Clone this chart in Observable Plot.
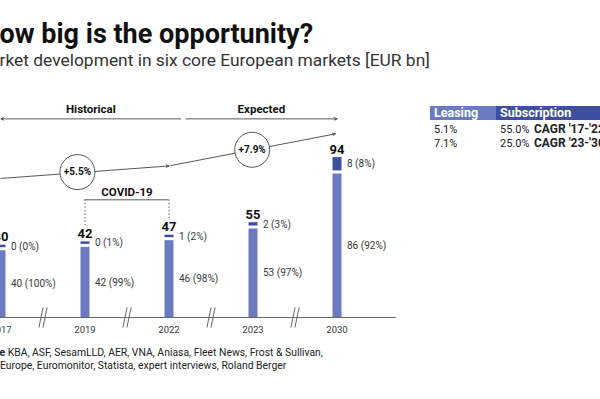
<!DOCTYPE html>
<html>
<head>
<meta charset="utf-8">
<script src="https://cdn.jsdelivr.net/npm/d3@7"></script>
<script src="https://cdn.jsdelivr.net/npm/@observablehq/plot@0.6"></script>
<style>
  html, body { margin: 0; padding: 0; }
  body { width: 600px; height: 399px; overflow: hidden; background: #fff; position: relative; font-family: Roboto, sans-serif; color: #1a1a1a; }
  .abs { position: absolute; white-space: nowrap; }
  #title { font-weight: 700; font-size: 27px; line-height: 27px; top: 21px; color: #111; }
  #subtitle { font-weight: 400; font-size: 17.4px; line-height: 19px; top: 51px; color: #333; }
  #chart { position: absolute; left: 0; top: 80px; }
  .foot { font-size: 10.4px; line-height: 12px; color: #222; }
  #cagrTable { position: absolute; left: 430px; top: 106px; width: 230px; border-collapse: collapse; font-size: 11px; color: #222; table-layout: fixed; }
  #cagrTable th { color: #fff; font-weight: 700; text-align: left; padding: 0 0 0 4px; height: 14px; line-height: 14px; font-size: 12.5px; white-space: nowrap; overflow: hidden; }
  #cagrTable td { padding: 0 0 0 4px; height: 13.5px; line-height: 13.5px; white-space: nowrap; overflow: hidden; }
  #cagrTable tr.first td { padding-top: 3px; }
</style>
</head>
<body>
<div id="title" class="abs"></div>
<div id="subtitle" class="abs"></div>
<div id="chart"></div>
<table id="cagrTable"></table>
<div id="foot1" class="abs foot" style="top:347px"></div>
<div id="foot2" class="abs foot" style="top:360px"></div>
<script>
// ---- data ----
const years = ["2017", "2019", "2022", "2023", "2030"];
const totals = [40, 42, 47, 55, 94];
const leasing = [40, 42, 46, 53, 86];
const leasingShare = [100, 99, 98, 97, 92];
const subscription = [0, 0, 1, 2, 8];
const subscriptionShare = [0, 1, 2, 3, 8];

const periods = ["Historical", "Expected"];
const periodFrom = [2.14, 2.2];   // index positions along the year axis
const periodTo = [0, 4];

const cagrLabels = ["+5.5%", "+7.9%"];
const cagrFromIdx = [0, 2.02];
const cagrToIdx = [2, 3.98];
const cagrFromVal = [83.3, 91];
const cagrToVal = [90.8, 110];
const cagrCircleIdx = [0.91, 2.99];
const cagrCircleVal = [87.1, 100.5];

const covidLabel = "COVID-19";
const covidYears = ["2019", "2022"];
const covidLevel = 70.5;

const tablePeriods = ["CAGR '17-'22", "CAGR '23-'30"];
const leasingCagr = ["5.1%", "7.1%"];
const subscriptionCagr = ["55.0%", "25.0%"];

const titleText = "How big is the opportunity?";
const subtitleText = "Market development in six core European markets [EUR bn]";
const sourceLabel = "Source";
const sourceLine1 = " KBA, ASF, SesamLLD, AER, VNA, Aniasa, Fleet News, Frost & Sullivan,";
const sourceLine2 = "Lease Europe, Euromonitor, Statista, expert interviews, Roland Berger";

// ---- styles ----
const LIGHT = "#6a7bc2";
const DARK = "#3f4f9f";
const INK = "#3a3a3a";
const GAP = 1.8;     // white gap between segments (value units)
const MINH = 1.5;    // minimum visible height of the thin top segment

// ---- helpers: crop-offset via text measurement ----
const ctx = document.createElement("canvas").getContext("2d");
function measure(str, font) { ctx.font = font; return ctx.measureText(str).width; }

const title = document.getElementById("title");
title.textContent = titleText;
title.style.left = (-measure("H", "700 27px Roboto") - 0.5) + "px";

const subtitle = document.getElementById("subtitle");
subtitle.textContent = subtitleText;
subtitle.style.left = (-measure("Ma", "400 17.4px Roboto") - 0.5) + "px";

const f1 = document.getElementById("foot1");
f1.innerHTML = `<b>${sourceLabel}</b>${sourceLine1.replace(/&/g, "&amp;")}`;
f1.style.left = (-measure("Sourc", "700 10.4px Roboto") - 0.5) + "px";
const f2 = document.getElementById("foot2");
f2.textContent = sourceLine2;
f2.style.left = (-measure("Lease ", "400 10.4px Roboto")) + "px";

// table
const tbl = document.getElementById("cagrTable");
tbl.innerHTML =
  `<colgroup><col style="width:66px"><col style="width:35px"><col style="width:129px"></colgroup>` +
  `<tr><th style="background:${LIGHT}">Leasing</th><th style="background:${DARK}" colspan="2">Subscription</th></tr>` +
  tablePeriods.map((p, i) =>
    `<tr class="${i === 0 ? "first" : ""}"><td>${leasingCagr[i]}</td><td>${subscriptionCagr[i]}</td><td style="font-weight:700;font-size:12px;padding-left:3px">${p}</td></tr>`
  ).join("");

// ---- chart data ----
const data = years.map((y, i) => ({
  i, year: y, total: totals[i], leasing: leasing[i], leasingShare: leasingShare[i],
  sub: subscription[i], subShare: subscriptionShare[i],
  subBase: leasing[i] + GAP,
  subTop: leasing[i] + GAP + Math.max(subscription[i], MINH)
}));
const periodData = periods.map((p, k) => ({label: p, from: periodFrom[k], to: periodTo[k], mid: (periodFrom[k] + periodTo[k]) / 2}));
const cagrData = cagrLabels.map((l, k) => ({label: l, x1: cagrFromIdx[k], y1: cagrFromVal[k], x2: cagrToIdx[k], y2: cagrToVal[k], cx: cagrCircleIdx[k], cy: cagrCircleVal[k]}));
const covidData = data.filter(d => covidYears.includes(d.year));
const breaks = d3.range(years.length - 1).map(k => k + 0.5);
const PERIOD_Y = 119;

const chart = Plot.plot({
  width: 600,
  height: 260,
  marginTop: 20,
  marginBottom: 23,
  marginLeft: 0,
  marginRight: 0,
  style: {fontFamily: "Roboto, sans-serif", background: "transparent", overflow: "visible"},
  x: {type: "linear", domain: [0, 4], range: [0.5, 336.5], axis: null},
  y: {domain: [0, 130], axis: null},
  marks: [
    // baseline axis
    Plot.ruleY([0], {x1: -0.5, x2: 4.705, stroke: "#666", strokeWidth: 1}),
    // axis breaks "//"
    Plot.link(breaks, {x1: d => d - 0.025, x2: d => d + 0.025, y1: -6, y2: 6, dx: -2, stroke: "#555", strokeWidth: 0.9}),
    Plot.link(breaks, {x1: d => d - 0.025, x2: d => d + 0.025, y1: -6, y2: 6, dx: 2, stroke: "#555", strokeWidth: 0.9}),
    // bars
    Plot.ruleX(data, {x: "i", y1: 0, y2: "leasing", stroke: LIGHT, strokeWidth: 9}),
    Plot.ruleX(data, {x: "i", y1: "subBase", y2: "subTop", stroke: DARK, strokeWidth: 9}),
    // totals
    Plot.text(data, {x: "i", y: "subTop", text: d => String(d.total), dy: -8, fontWeight: 700, fontSize: 13, fill: "#111"}),
    // segment labels
    Plot.text(data, {x: "i", y: d => (d.subBase + d.subTop) / 2, text: d => `${d.sub} (${d.subShare}%)`, textAnchor: "start", dx: 10, fontSize: 10, fill: INK}),
    Plot.text(data, {x: "i", y: d => d.leasing / 2, text: d => `${d.leasing} (${d.leasingShare}%)`, textAnchor: "start", dx: 10, fontSize: 10, fill: INK}),
    // year labels
    Plot.text(data, {x: "i", y: 0, text: "year", dy: 12, fontSize: 9.5, fill: INK}),
    // Historical / Expected arrows
    Plot.arrow(periodData, {x1: "from", x2: "to", y1: PERIOD_Y, y2: PERIOD_Y, stroke: "#444", strokeWidth: 0.9, headLength: 5, headAngle: 50}),
    Plot.text(periodData, {x: "mid", y: PERIOD_Y, text: "label", dy: -10, fontWeight: 700, fontSize: 11.5, fill: "#111"}),
    // CAGR arrows and circles
    Plot.arrow(cagrData, {x1: "x1", y1: "y1", x2: "x2", y2: "y2", stroke: "#444", strokeWidth: 0.9, headLength: 5, headAngle: 50}),
    Plot.dot(cagrData, {x: "cx", y: "cy", r: 17.5, fill: "white", stroke: "#444", strokeWidth: 0.9}),
    Plot.text(cagrData, {x: "cx", y: "cy", text: "label", fontWeight: 700, fontSize: 10, fill: "#111"}),
    // COVID-19 bracket
    Plot.ruleY([covidLevel], {x1: 1, x2: 2, stroke: "#444", strokeWidth: 0.9}),
    Plot.ruleX(covidData, {x: "i", y1: covidLevel, y2: d => d.subTop + 9.5, stroke: "#555", strokeWidth: 0.9, strokeDasharray: "1.5,2"}),
    Plot.text([covidLabel], {x: 1.5, y: covidLevel, text: d => d, dy: -8, fontWeight: 700, fontSize: 11.5, fill: "#111"})
  ]
});
document.getElementById("chart").appendChild(chart);
</script>
</body>
</html>
